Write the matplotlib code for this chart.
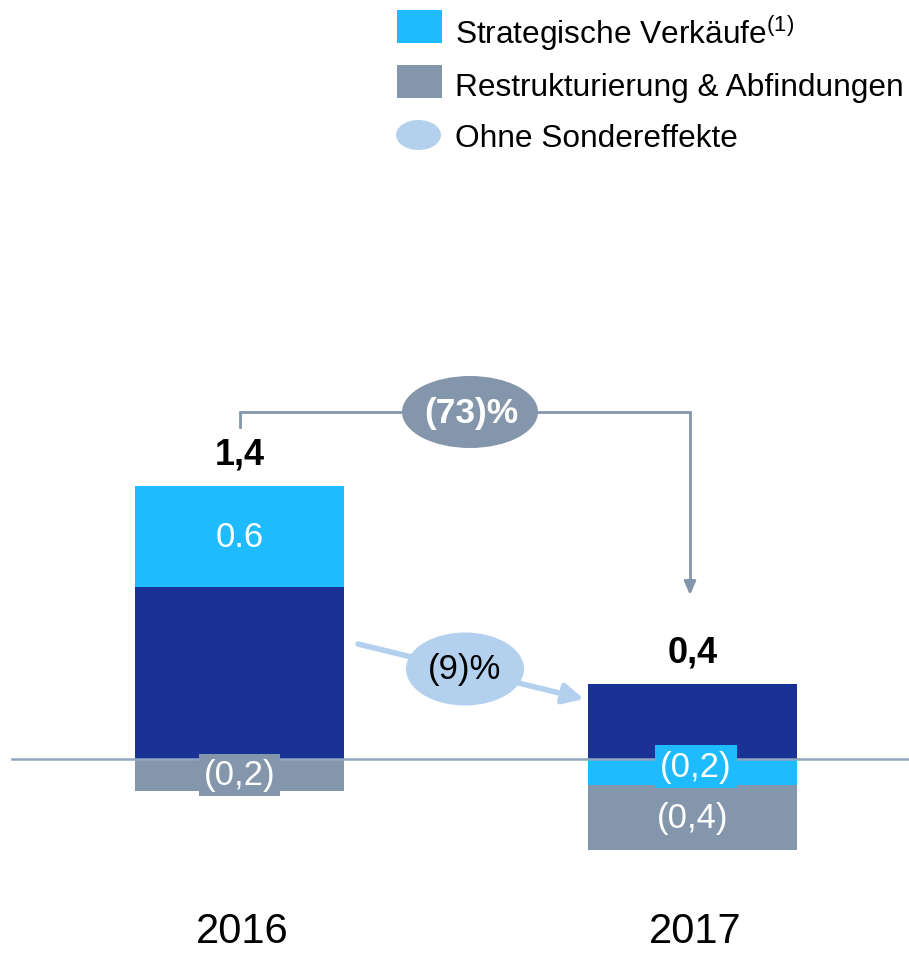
import matplotlib
matplotlib.use("Agg")
import matplotlib.pyplot as plt
from matplotlib.patches import Ellipse, Rectangle, FancyArrowPatch

plt.rcParams['font.family'] = ['Liberation Sans', 'DejaVu Sans']
plt.rcParams['mathtext.fontset'] = 'custom'
plt.rcParams['mathtext.rm'] = 'Liberation Sans'

# data (bn EUR)
years = ['2016', '2017']
ohne = [1.075, 0.47]          # Ohne Sondereffekte
strategisch = [0.63, -0.16]   # Strategische Verkäufe
restruk = [-0.2, -0.41]       # Restrukturierung & Abfindungen
totals = ['1,4', '0,4']
strat_labels = ['0.6', '(0,2)']
restruk_labels = ['(0,2)', '(0,4)']
change_total = '(73)%'
change_ohne = '(9)%'

c_light = '#1EBBFF'
c_dark = '#1A3296'
c_gray = '#8496AB'
c_ell = '#B3D1EE'
c_zero = '#8FA6C0'

W, H = 909, 954
fig = plt.figure(figsize=(W / 100, H / 100), dpi=100)
ax = fig.add_axes([0, 0, 1, 1])
ax.set_xlim(-239.5 / 453, (W - 239.5) / 453)
ax.set_ylim(-194 / 160, (H - 194) / 160)
ax.axis('off')

def fx(px):
    return px / W

def fy(py):
    return 1 - py / H

x = [0, 1]
bw = 0.461
ax.bar(x, ohne, width=bw, color=c_dark, zorder=2)
# strategic sales: on top of ohne when positive, below zero when negative
s_bottom = [o if s > 0 else 0 for o, s in zip(ohne, strategisch)]
ax.bar(x, strategisch, width=bw, bottom=s_bottom, color=c_light, zorder=2)
r_bottom = [min(s, 0) for s in strategisch]
ax.bar(x, restruk, width=bw, bottom=r_bottom, color=c_gray, zorder=2)
ax.axhline(0, xmin=12 / W, xmax=1, color=c_zero, lw=1.8, zorder=3)

# segment labels
ax.text(x[0], s_bottom[0] + strategisch[0] / 2, strat_labels[0], color='white',
        fontsize=25, ha='center', va='center', zorder=5)
ax.text(x[0], -0.1, restruk_labels[0], color='white', fontsize=25, ha='center',
        va='center', zorder=5,
        bbox=dict(boxstyle='square,pad=0.14', fc=c_gray, ec='none'))
ax.text(x[1] + 0.008, -0.045, strat_labels[1], color='white', fontsize=25,
        ha='center', va='center', zorder=5,
        bbox=dict(boxstyle='square,pad=0.14', fc=c_light, ec='none'))
ax.text(x[1], r_bottom[1] + restruk[1] / 2, restruk_labels[1], color='white',
        fontsize=25, ha='center', va='center', zorder=5)

# totals above bars
tops = [ohne[i] + max(strategisch[i], 0) for i in range(2)]
for i in range(2):
    ax.text(x[i], tops[i] + 0.09, totals[i], fontsize=26, fontweight='bold',
            ha='center', va='bottom', zorder=5)

# year labels
for i in range(2):
    ax.text(x[i] + 0.005, -1.145, years[i], fontsize=30, ha='center', va='baseline')

# bracket with (73)%
tf = fig.transFigure
ax.plot([fx(240), fx(240), fx(690), fx(690)], [fy(428), fy(413), fy(413), fy(585)],
        color=c_gray, lw=2, transform=tf, zorder=3, solid_joinstyle='miter')
ax.annotate('', xy=(fx(690), fy(596)), xytext=(fx(690), fy(580)),
            xycoords=tf, textcoords=tf,
            arrowprops=dict(arrowstyle='-|>,head_width=0.35,head_length=0.8',
                            color=c_gray, lw=2, shrinkA=0, shrinkB=0))
ax.add_patch(Ellipse((fx(470), fy(413)), 136 / W, 72 / H, transform=tf,
                     fc=c_gray, ec='none', zorder=4))
ax.text(fx(471), fy(414), change_total, transform=tf, fontsize=25.5,
        fontweight='bold', color='white', ha='center', va='center', zorder=5)

# light arrow with (9)%
ax.add_patch(FancyArrowPatch((fx(358), fy(645)), (fx(584), fy(700)),
                             transform=tf, arrowstyle='-|>,head_width=6,head_length=12',
                             color=c_ell, lw=4, shrinkA=0, shrinkB=0, zorder=3))
ax.add_patch(Ellipse((fx(465), fy(670)), 118 / W, 73 / H, transform=tf,
                     fc=c_ell, ec='none', zorder=4))
ax.text(fx(465), fy(670), change_ohne, transform=tf, fontsize=25,
        color='black', ha='center', va='center', zorder=5)

# legend
ax.add_patch(Rectangle((fx(397), fy(44)), 45 / W, 33 / H, transform=tf,
                       fc=c_light, ec='none'))
ax.add_patch(Rectangle((fx(397), fy(99)), 45 / W, 33 / H, transform=tf,
                       fc=c_gray, ec='none'))
ax.add_patch(Ellipse((fx(418.5), fy(136)), 45 / W, 30 / H, transform=tf,
                     fc=c_ell, ec='none'))
ax.text(fx(455), fy(33), r'Strategische Verkäufe$^{\mathrm{(1)}}$', transform=tf,
        fontsize=22.8, ha='left', va='center')
ax.text(fx(455), fy(88), 'Restrukturierung & Abfindungen', transform=tf,
        fontsize=22.8, ha='left', va='center')
ax.text(fx(455), fy(139), 'Ohne Sondereffekte', transform=tf,
        fontsize=22.8, ha='left', va='center')

fig.savefig('out.png', dpi=100)
